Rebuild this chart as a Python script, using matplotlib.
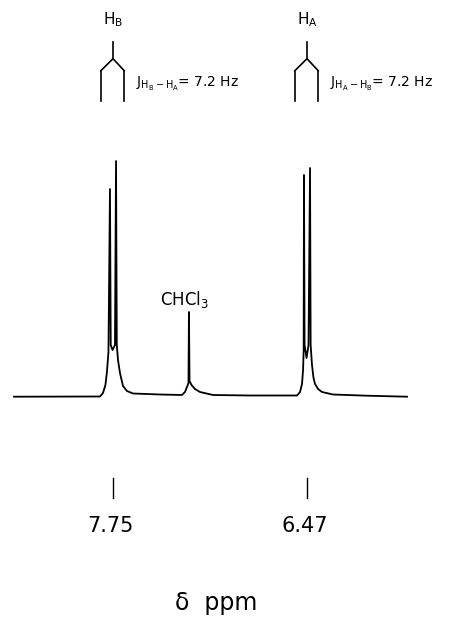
import matplotlib
matplotlib.use("Agg")
import matplotlib.pyplot as plt

# traced spectrum: chemical shift (ppm) and intensity (arbitrary units)
shift_ppm = [8.403, 7.836, 7.816, 7.800, 7.790, 7.780, 7.770, 7.765, 7.753,
             7.737, 7.730, 7.725, 7.717, 7.704, 7.684, 7.658, 7.618, 7.440,
             7.295, 7.275, 7.262, 7.252, 7.249, 7.245, 7.232, 7.209, 7.176,
             7.090, 6.846, 6.536, 6.516, 6.503, 6.496, 6.492, 6.490, 6.486,
             6.473, 6.460, 6.450, 6.446, 6.437, 6.427, 6.417, 6.397, 6.371,
             6.299, 6.074, 5.810]
intensity = [0.0, 0.2, 3.7, 11.7, 24.7, 44.7, 207.7, 51.7, 46.7,
             51.7, 235.7, 51.7, 36.7, 23.7, 10.7, 5.7, 3.2, 2.2,
             1.7, 4.7, 9.7, 13.7, 84.7, 15.7, 11.7, 7.7, 4.7,
             1.7, 1.2, 1.2, 4.7, 12.7, 26.7, 46.7, 221.7, 51.7,
             38.7, 51.7, 228.7, 51.7, 31.7, 18.7, 12.7, 7.7, 4.7,
             2.2, 1.0, 0.0]

peak_ppm = [7.75, 6.47]
peak_labels = ["7.75", "6.47"]
proton_labels = [r"H$_\mathrm{B}$", r"H$_\mathrm{A}$"]
coupling_labels = [r"$\mathrm{J_{H_B-H_A}}$= 7.2 Hz", r"$\mathrm{J_{H_A-H_B}}$= 7.2 Hz"]
solvent_ppm = 7.249


def main():
    fig = plt.figure(figsize=(4.68, 6.17), dpi=100)
    ax = fig.add_axes([0, 0, 1, 1])
    ax.set_xlim(8.4956, 5.4077)
    ax.set_ylim(-220.3, 396.7)
    ax.axis("off")

    # the spectrum
    ax.plot(shift_ppm, intensity, color="black", linewidth=1.3)

    # doublet stick diagrams above each peak
    for p, lab, jlab in zip(peak_ppm, proton_labels, coupling_labels):
        ax.plot([p, p], [355, 338], color="black", linewidth=1.2)
        ax.plot([p - 0.074, p, p + 0.080], [326, 338, 326], color="black", linewidth=1.2)
        ax.plot([p - 0.074, p - 0.074], [326, 296], color="black", linewidth=1.2)
        ax.plot([p + 0.080, p + 0.080], [326, 296], color="black", linewidth=1.2)
        ax.text(p, 372, lab, ha="center", va="baseline", fontsize=11)
        ax.text(p - 0.152, 310, jlab, ha="left", va="baseline", fontsize=10)

    ax.text(solvent_ppm + 0.026, 92, r"CHCl$_3$", ha="center", va="baseline", fontsize=12)

    # chemical shift marks
    for p, lab in zip(peak_ppm, peak_labels):
        ax.plot([p, p], [-81, -101], color="black", linewidth=1.0)
        ax.text(p + 0.015, -135, lab, ha="center", va="baseline", fontsize=15)

    ax.text(7.066, -213, "δ  ppm", ha="center", va="baseline", fontsize=17)

    fig.savefig("out.png", dpi=100, facecolor="white")


if __name__ == "__main__":
    main()
